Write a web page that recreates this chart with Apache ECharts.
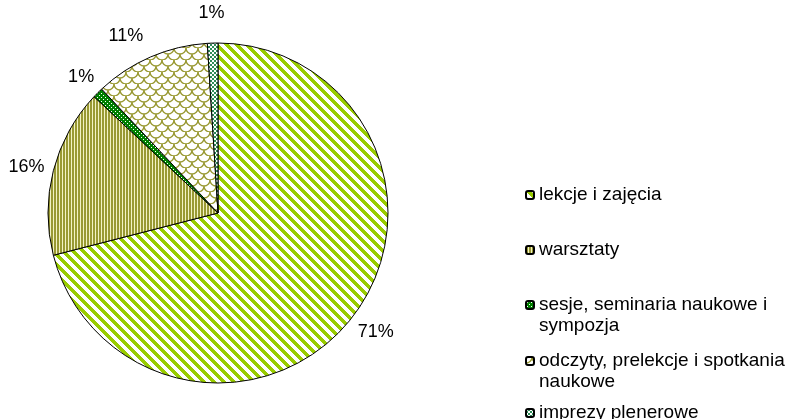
<!DOCTYPE html>
<html>
<head>
<meta charset="utf-8">
<script src="https://cdn.jsdelivr.net/npm/echarts@6/dist/echarts.min.js"></script>
<style>html,body{margin:0;padding:0;background:#fff}#main{width:795px;height:419px}</style>
</head>
<body>
<div id="main"></div>
<script>
// data
var categories = ['lekcje i zajęcia', 'warsztaty', 'sesje, seminaria naukowe i\nsympozja',
                  'odczyty, prelekcje i spotkania\nnaukowe', 'imprezy plenerowe'];
var shares = [71, 16, 1, 11, 1];

// layout / style
var legendTops = [184.5, 239.5, 273.5, 329.5, 402.5];
var labelDx = [-6, 4, 7, 1, 17];
var labelDy = [10, -2, -10, -14, -22];
var fontName = 'Liberation Sans, Arial, sans-serif';

function tile(w, h, draw) {
    var c = document.createElement('canvas');
    c.width = w; c.height = h;
    var ctx = c.getContext('2d');
    draw(ctx, w, h);
    return { image: c, repeat: 'repeat' };
}
function px(ctx, x, y, col) { ctx.fillStyle = col; ctx.fillRect(x, y, 1, 1); }

// diagonal green stripes
var patDiag = tile(10, 10, function (ctx, w, h) {
    ctx.fillStyle = '#fff'; ctx.fillRect(0, 0, w, h);
    for (var y = 0; y < h; y++)
        for (var x = 0; x < w; x++)
            if ((((x - y) % 10) + 10) % 10 < 5) px(ctx, x, y, '#99cc00');
});
// vertical olive stripes
var patVert = tile(3, 3, function (ctx, w, h) {
    ctx.fillStyle = '#f2f2c4'; ctx.fillRect(0, 0, w, h);
    ctx.fillStyle = '#999933'; ctx.fillRect(0, 0, 2, h);
});
// dark green with white dots
var patDots = tile(4, 4, function (ctx, w, h) {
    ctx.fillStyle = '#008000'; ctx.fillRect(0, 0, w, h);
    px(ctx, 1, 1, '#fff'); px(ctx, 3, 3, '#fff');
});
// olive shingle on white
var patShingle = tile(12, 12, function (ctx, w, h) {
    ctx.fillStyle = '#fff'; ctx.fillRect(0, 0, w, h);
    ctx.strokeStyle = '#999933'; ctx.lineWidth = 1.3;
    var rows = [[0, [0, 12]], [6, [6]], [12, [0, 12]]];
    rows.forEach(function (r) {
        r[1].forEach(function (cx) {
            ctx.beginPath(); ctx.arc(cx, r[0], 6, 0, Math.PI); ctx.stroke();
        });
    });
});
// teal checker
var patCheck = tile(4, 4, function (ctx, w, h) {
    ctx.fillStyle = '#2e8b57'; ctx.fillRect(0, 0, w, h);
    ctx.fillStyle = '#fff'; ctx.fillRect(0, 0, 2, 2); ctx.fillRect(2, 2, 2, 2);
});
var fills = [patDiag, patVert, patDots, patShingle, patCheck];

var myChart = echarts.init(document.getElementById('main'));

// one legend per entry so each can sit where Excel put it;
// two-line entries get a blank first line so the icon lines up with the first text line
var legends = categories.map(function (name, i) {
    var two = name.indexOf('\n') >= 0;
    return {
        orient: 'vertical', left: 525, top: legendTops[i], padding: 0,
        data: [name], itemWidth: 8, itemHeight: 8, selectedMode: false,
        formatter: function (n) { return two ? ' \n' + n : n; },
        textStyle: { fontFamily: fontName, fontSize: 19, color: '#000', lineHeight: 21 }
    };
});

var option = {
    backgroundColor: '#fff',
    animation: false,
    legend: legends,
    series: [{
        type: 'pie',
        center: [218, 213],
        radius: 170,
        startAngle: 90,
        clockwise: true,
        avoidLabelOverlap: false,
        itemStyle: { borderColor: '#000', borderWidth: 1 },
        label: {
            position: 'outside', formatter: '{c}%', color: '#000',
            fontFamily: fontName, fontSize: 18
        },
        labelLine: { show: false, length: 8, length2: 0 },
        labelLayout: function (p) {
            return { dx: labelDx[p.dataIndex], dy: labelDy[p.dataIndex] };
        },
        emphasis: { disabled: true },
        data: categories.map(function (n, i) {
            return { name: n, value: shares[i], itemStyle: { color: fills[i] } };
        })
    }]
};
myChart.setOption(option);
</script>
</body>
</html>
